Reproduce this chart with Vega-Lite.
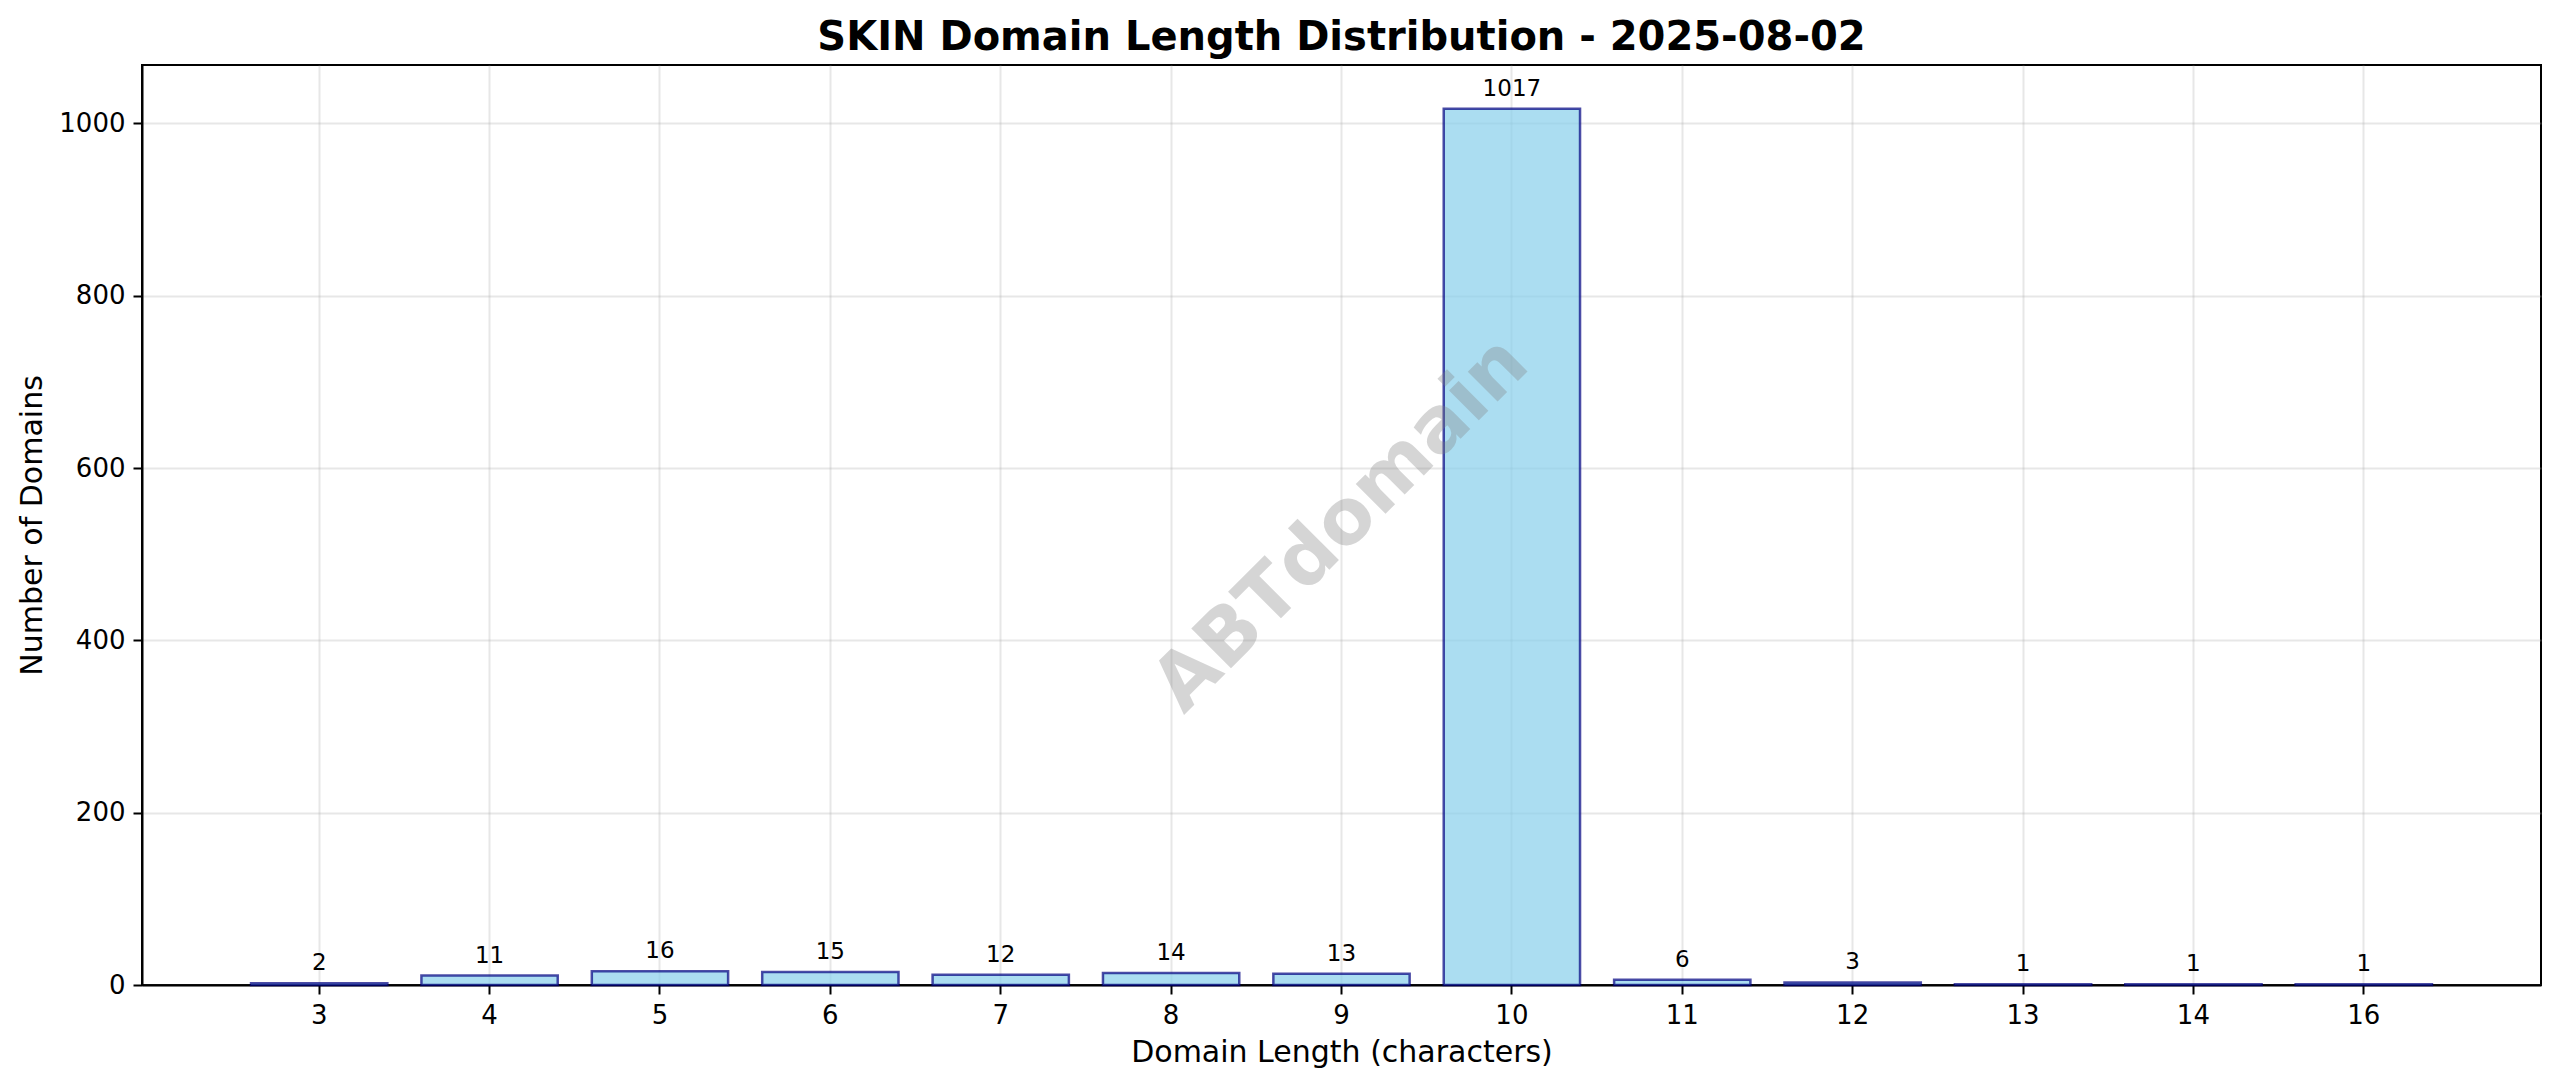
{
  "$schema": "https://vega.github.io/schema/vega-lite/v6.json",
  "width": 2399,
  "height": 920,
  "autosize": {"type": "none"},
  "padding": {"left": 142, "top": 65, "right": 19, "bottom": 103},
  "background": "white",
  "title": {
    "text": "SKIN Domain Length Distribution - 2025-08-02",
    "font": "DejaVu Sans",
    "fontSize": 40,
    "fontWeight": "bold",
    "color": "black",
    "anchor": "middle",
    "offset": 7
  },
  "data": {
    "values": [
      {"length": "3", "count": 2},
      {"length": "4", "count": 11},
      {"length": "5", "count": 16},
      {"length": "6", "count": 15},
      {"length": "7", "count": 12},
      {"length": "8", "count": 14},
      {"length": "9", "count": 13},
      {"length": "10", "count": 1017},
      {"length": "11", "count": 6},
      {"length": "12", "count": 3},
      {"length": "13", "count": 1},
      {"length": "14", "count": 1},
      {"length": "16", "count": 1}
    ]
  },
  "config": {
    "view": {"stroke": "black", "strokeWidth": 2},
    "axis": {
      "labelFont": "DejaVu Sans",
      "titleFont": "DejaVu Sans",
      "labelFontSize": 26,
      "titleFontSize": 30,
      "titleFontWeight": "normal",
      "labelColor": "black",
      "titleColor": "black",
      "domainColor": "black",
      "domainWidth": 2,
      "tickColor": "black",
      "tickWidth": 2,
      "tickSize": 9,
      "labelPadding": 8,
      "grid": true,
      "gridColor": "#b0b0b0",
      "gridOpacity": 0.3,
      "gridWidth": 2
    }
  },
  "layer": [
    {
      "mark": {
        "type": "bar",
        "fill": "#87CEEB",
        "fillOpacity": 0.7,
        "stroke": "#000080",
        "strokeOpacity": 0.7,
        "strokeWidth": 2.5
      },
      "encoding": {
        "x": {
          "field": "length",
          "type": "nominal",
          "sort": null,
          "scale": {"paddingInner": 0.2, "paddingOuter": 0.64},
          "axis": {
            "title": "Domain Length (characters)",
            "labelAngle": 0,
            "bandPosition": 0.5,
            "titlePadding": 9
          }
        },
        "y": {
          "field": "count",
          "type": "quantitative",
          "scale": {"domain": [0, 1067.85], "nice": false},
          "axis": {
            "title": "Number of Domains",
            "values": [0, 200, 400, 600, 800, 1000],
            "format": "d",
            "titlePadding": 11
          }
        }
      }
    },
    {
      "mark": {
        "type": "text",
        "font": "DejaVu Sans",
        "fontSize": 23,
        "color": "black",
        "baseline": "alphabetic",
        "align": "center",
        "dy": -13
      },
      "encoding": {
        "x": {"field": "length", "type": "nominal", "sort": null},
        "y": {"field": "count", "type": "quantitative"},
        "text": {"field": "count", "type": "quantitative"}
      }
    },
    {
      "data": {"values": [{"label": "ABTdomain"}]},
      "mark": {
        "type": "text",
        "font": "DejaVu Sans",
        "fontSize": 77,
        "fontWeight": "bold",
        "fill": "gray",
        "opacity": 0.32,
        "angle": -45,
        "align": "center",
        "baseline": "middle"
      },
      "encoding": {
        "x": {"datum": "9", "type": "nominal"},
        "y": {"datum": 533.9, "type": "quantitative"},
        "text": {"field": "label", "type": "nominal"}
      }
    }
  ]
}
